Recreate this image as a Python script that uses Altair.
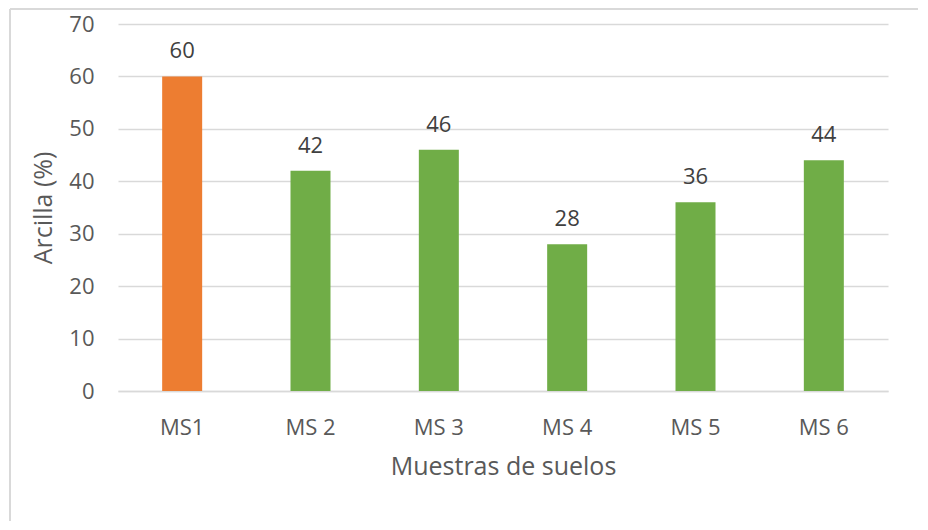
import altair as alt
import pandas as pd

categories = ["MS1", "MS 2", "MS 3", "MS 4", "MS 5", "MS 6"]
values = [60, 42, 46, 28, 36, 44]
colors = ["#ED7D31", "#70AD47", "#70AD47", "#70AD47", "#70AD47", "#70AD47"]

df = pd.DataFrame({"cat": categories, "val": values, "color": colors})

FONT = "Open Sans"
TXT = "#595959"

base = alt.Chart(df).encode(
    x=alt.X("cat:N", sort=categories, title="Muestras de suelos",
            scale=alt.Scale(paddingInner=0.0, paddingOuter=0.0),
            axis=alt.Axis(labelAngle=0, labelFontSize=22, labelColor=TXT, labelFont=FONT,
                          titleFontSize=25, titleColor=TXT, titleFont=FONT, titleFontWeight="normal",
                          ticks=False, domainColor="#D9D9D9", domainWidth=1.5,
                          labelPadding=26, titlePadding=16)),
    y=alt.Y("val:Q", title="Arcilla (%)",
            scale=alt.Scale(domain=[0, 70]),
            axis=alt.Axis(values=list(range(0, 71, 10)), labelFontSize=22, labelColor=TXT, labelFont=FONT,
                          titleFontSize=25, titleColor=TXT, titleFont=FONT, titleFontWeight="normal",
                          ticks=False, domain=False, gridColor="#D9D9D9", gridWidth=1.5,
                          labelPadding=24, titlePadding=12)),
)

bars = base.mark_bar(size=40).encode(color=alt.Color("color:N", scale=None))
labels = base.mark_text(dy=-18, baseline="alphabetic", fontSize=22, font=FONT, color="#404040").encode(
    text=alt.Text("val:Q"))

frame_top = alt.Chart(df).mark_rule(color="#D9D9D9", strokeWidth=1.5).encode(
    x=alt.value(-108), x2=alt.value(920), y=alt.value(-15))
frame_left = alt.Chart(df).mark_rule(color="#D9D9D9", strokeWidth=1.5).encode(
    x=alt.value(-108), y=alt.value(-15), y2=alt.value(520))

chart = alt.layer(bars, labels, frame_top, frame_left).properties(
    width=770, height=367,
    padding={"left": 110, "top": 16, "right": 30, "bottom": 130},
    autosize=alt.AutoSizeParams(type="none"),
).configure_view(stroke=None)

chart.save("out.html", embed_options={"renderer": "svg", "actions": False})
